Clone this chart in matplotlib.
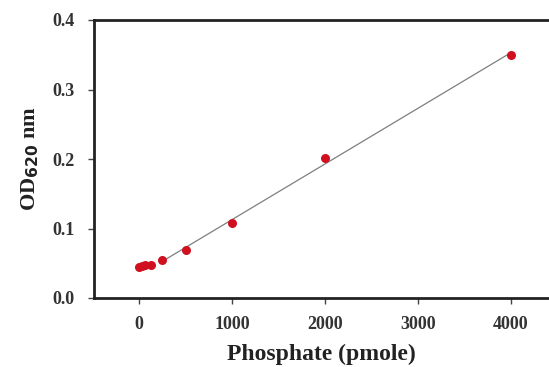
import matplotlib
matplotlib.use("Agg")
import matplotlib.pyplot as plt
import numpy as np

# phosphate standard curve
phosphate = [0, 31.25, 62.5, 125, 250, 500, 1000, 2000, 4000]
od620 = [0.044, 0.046, 0.047, 0.048, 0.055, 0.069, 0.108, 0.202, 0.350]
x_ticks = [0, 1000, 2000, 3000, 4000]
y_ticks = [0.0, 0.1, 0.2, 0.3, 0.4]

plt.rcParams["font.family"] = ["Liberation Serif", "DejaVu Serif"]
plt.rcParams["font.weight"] = "bold"

fig = plt.figure(figsize=(5.49, 3.67), dpi=100)
ax = fig.add_axes([94 / 549, 1 - 298 / 367, 1 - 94 / 549, (298 - 20) / 367])

# linear fit over the upper part of the range
fit_x = np.array(phosphate[4:])
slope, intercept = np.polyfit(fit_x, od620[4:], 1)
ax.plot([fit_x[0], fit_x[-1]], [slope * fit_x[0] + intercept, slope * fit_x[-1] + intercept],
        color="#7f7f7f", linewidth=0.9, zorder=2)
ax.plot(phosphate, od620, linestyle="none", marker="o", markersize=6.5,
        color="#d0101e", markeredgewidth=0, zorder=3)

ax.set_xlim(-484, 4409)
ax.set_ylim(0, 0.4)
ax.set_xticks(x_ticks)
ax.set_yticks(y_ticks)
ax.set_yticklabels(["{:.1f}".format(v) for v in y_ticks])

for side in ["left", "bottom", "top"]:
    ax.spines[side].set_linewidth(2)
    ax.spines[side].set_color("#222222")
ax.spines["right"].set_visible(False)

ax.tick_params(axis="both", direction="out", length=4, width=1, labelsize=13,
               color="#444444")
ax.tick_params(axis="x", pad=9)
ax.tick_params(axis="y", pad=10)
for lbl in ax.get_xticklabels() + ax.get_yticklabels():
    lbl.set_fontweight("bold")
    lbl.set_color("#333333")

ax.set_xlabel("Phosphate (pmole)", fontsize=17, fontweight="bold", labelpad=8,
              color="#222222")
ax.set_ylabel("OD$_{\\mathbf{620}}$ nm", fontsize=16, fontweight="bold", labelpad=8,
              color="#222222")

fig.savefig("out.png", dpi=100)
